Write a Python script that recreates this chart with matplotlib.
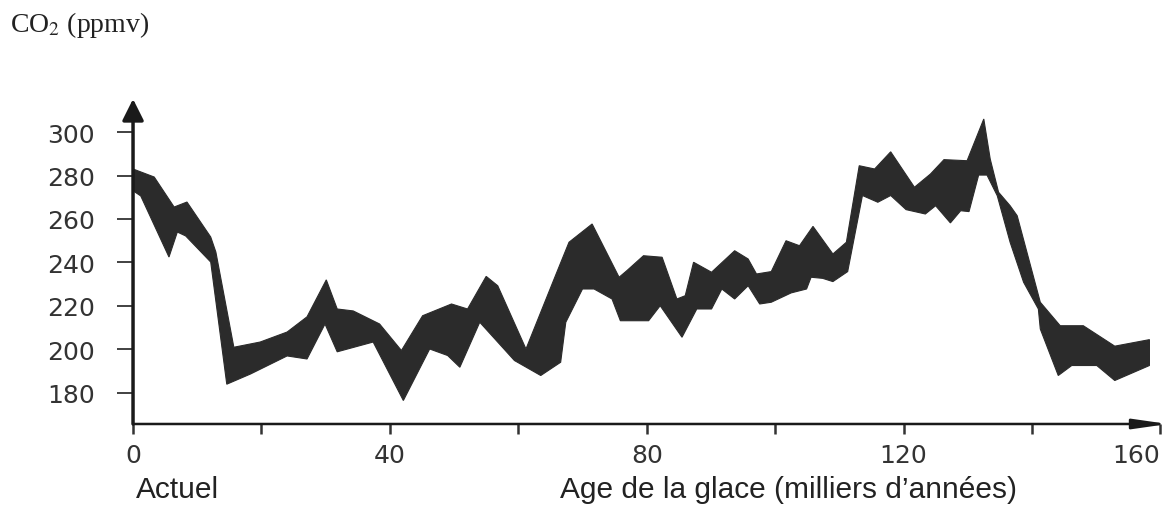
import matplotlib
matplotlib.use("Agg")
import matplotlib.pyplot as plt
import numpy as np

# enveloppe haute et basse de la bande CO2 (Vostok)
age_haut = [0, 3.3, 6.4, 8.4, 12.1, 12.9, 15.7, 19.8, 24.0, 27.1,
            30.1, 31.8, 34.3, 38.4, 41.8, 45.1, 49.6, 52.1, 55.0, 56.8,
            61.2, 65.8, 67.9, 71.5, 75.7, 76.9, 79.5, 82.4, 84.7, 86.0,
            87.3, 90.1, 93.7, 95.8, 97.1, 99.4, 101.7, 103.8, 105.9, 109.0,
            111.1, 113.1, 115.5, 118.0, 121.7, 124.2, 126.3, 129.9, 132.5, 133.5,
            134.8, 136.6, 137.7, 141.3, 144.4, 148.0, 152.9, 158.3]
co2_haut = [283, 279.3, 265.5, 267.8, 251.7, 244.8, 201, 203.4, 208, 215,
            232, 218.6, 217.7, 211.7, 199.5, 215.5, 220.9, 218.6, 233.6, 229.3,
            200.2, 234, 249.3, 257.7, 233.2, 236.2, 243.1, 242.4, 223.2, 224.7,
            240.1, 235.5, 245.4, 241.6, 234.7, 235.8, 250, 247.7, 256.6, 243.9,
            249.3, 284.5, 283, 290.9, 274.6, 280.7, 287.3, 286.8, 306, 287.6,
            272.3, 266.1, 261.5, 221.7, 210.9, 210.9, 201.5, 204.5]

age_bas = [0, 1.2, 5.6, 6.9, 8.2, 12.1, 14.6, 18.3, 24.0, 27.1,
           29.9, 31.8, 37.4, 42.1, 46.2, 49.0, 50.9, 54.0, 59.4, 63.5,
           66.6, 67.4, 70.0, 71.8, 74.6, 75.9, 80.3, 82.1, 85.5, 87.8,
           90.1, 91.7, 93.7, 95.8, 97.6, 99.4, 102.5, 104.9, 105.6, 107.4,
           109.0, 111.3, 113.6, 116.0, 118.0, 120.4, 123.4, 125.0, 127.3, 128.9,
           130.2, 131.7, 133.0, 134.6, 136.6, 138.7, 141.0, 141.3, 144.1, 146.2,
           150.1, 152.9, 158.3]
co2_bas = [273, 270.6, 242.5, 254, 252.2, 240.2, 184, 188.7, 197, 195.6,
           211.7, 198.9, 203.4, 176.5, 200.2, 197.2, 191.8, 212.5, 194.9, 188,
           194.1, 212.5, 227.8, 227.8, 223.2, 213.2, 213.2, 220.1, 205.6, 218.6,
           218.6, 227.8, 223.2, 229.3, 220.9, 221.7, 226, 227.8, 233.2, 232.7,
           231.2, 235.8, 270.8, 267.7, 270.8, 264.3, 262.3, 266.1, 258.2, 263.8,
           263.4, 280.2, 280.2, 270.7, 249.3, 230.9, 218.6, 209.4, 188, 192.6,
           192.6, 185.7, 192.6]

y_ticks = [180, 200, 220, 240, 260, 280, 300]
x_ticks = [0, 40, 80, 120, 160]
x_mineurs = [20, 60, 100, 140]

plt.rcParams["mathtext.fontset"] = "stix"

fig = plt.figure(figsize=(11.69, 5.06), dpi=100)
ax = fig.add_axes([0.1138, 0.1601, 0.8854, 0.6423])

# bande
ax.fill(np.concatenate([age_haut, age_bas[::-1]]),
        np.concatenate([co2_haut, co2_bas[::-1]]),
        color="#2b2b2b", lw=0.8, ec="#2b2b2b")

ax.set_xlim(0, 161.2)
ax.set_ylim(165.7, 315.2)

for s in ax.spines.values():
    s.set_visible(False)

# axes avec fleches
ax.annotate("", xy=(0, 1), xytext=(0, 0), xycoords="axes fraction",
            arrowprops=dict(arrowstyle="-|>,head_length=1.3,head_width=0.65",
                            lw=2.5, color="#1a1a1a", shrinkA=0, shrinkB=0))
ax.annotate("", xy=(1, 0), xytext=(0, 0), xycoords="axes fraction",
            arrowprops=dict(arrowstyle="-|>,head_length=2.1,head_width=0.3",
                            lw=1.8, color="#1a1a1a", shrinkA=0, shrinkB=0))

ax.set_yticks(y_ticks)
ax.set_yticklabels([str(v) for v in y_ticks])
ax.set_xticks(x_ticks)
ax.set_xticklabels([str(v) for v in x_ticks])
ax.set_xticks(x_mineurs, minor=True)

ax.tick_params(axis="y", direction="out", length=11.5, width=1.3,
               pad=16, labelsize=18, colors="#333333")
ax.tick_params(axis="x", which="both", direction="out", length=7, width=1.8,
               pad=7, labelsize=18, colors="#333333")
ax.get_xticklabels()[-1].set_ha("right")

fig.text(0.0086, 0.95, "CO$_2$ (ppmv)", fontsize=20, family="Liberation Serif",
         va="center", ha="left", color="#222222")

txt_font = ["Liberation Sans Narrow", "Liberation Sans"]
fig.text(136 / 1169, 1 - 490 / 506, "Actuel", fontsize=21.5, family=txt_font,
         va="center", ha="left", color="#222222")
fig.text(560 / 1169, 1 - 490 / 506, "Age de la glace (milliers d\u2019années)",
         fontsize=21.5, family=txt_font, va="center", ha="left", color="#222222")

fig.savefig("out.png", dpi=100)
